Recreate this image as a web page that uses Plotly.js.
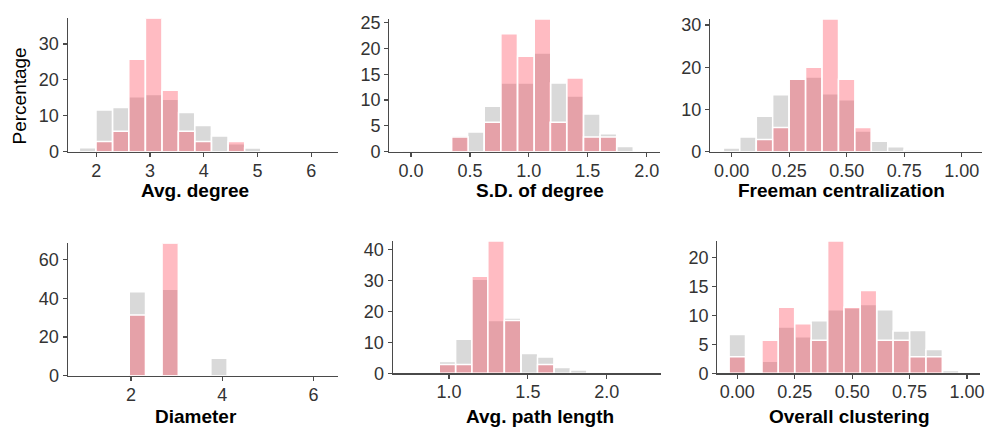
<!DOCTYPE html>
<html>
<head>
<meta charset="utf-8">
<script src="https://cdn.plot.ly/plotly-3.0.1.min.js"></script>
<style>html,body{margin:0;padding:0;background:#fff;}#chart{width:987px;height:429px;}</style>
</head>
<body>
<div id="chart"></div>
<script>
// ---- Data ----
// Panel 1: Avg. degree
const avgDegreeBins = [1.84, 2.15, 2.46, 2.76, 3.07, 3.38, 3.68, 3.99, 4.30, 4.61, 4.91];
const avgDegreeGray = [1.1, 11.6, 12.3, 15.3, 15.9, 14.6, 10.9, 7.3, 4.4, 2.2, 1.0];
const avgDegreePink = [0, 2.86, 5.71, 25.71, 37.14, 17.14, 5.71, 2.86, 0, 2.86, 0];
const avgDegreeWidth = 0.307;

// Panel 2: S.D. of degree
const sdDegreeBins = [0.0, 0.415, 0.551, 0.692, 0.833, 0.975, 1.116, 1.251, 1.393, 1.534, 1.675, 1.816];
const sdDegreeGray = [0.3, 3.1, 3.8, 8.8, 13.3, 13.3, 19.1, 13.3, 10.8, 7.3, 3.5, 1.0];
const sdDegreePink = [0, 2.86, 0, 5.71, 22.86, 18.5, 25.71, 5.71, 14.29, 2.86, 2.86, 0];
const sdDegreeWidth = 0.1405;

// Panel 3: Freeman centralization
const freemanBins = [0.0, 0.071, 0.143, 0.214, 0.286, 0.357, 0.429, 0.5, 0.571, 0.643, 0.714, 0.786];
const freemanGray = [0.9, 3.5, 8.4, 13.5, 17.3, 17.7, 13.7, 12.3, 4.9, 2.5, 1.2, 0.4];
const freemanPink = [0, 0, 2.86, 5.71, 17.14, 20.0, 31.43, 17.14, 5.71, 0, 0, 0];
const freemanWidth = 0.0714;

// Panel 4: Diameter
const diameterBins = [2.14, 2.86, 3.93];
const diameterGray = [43.5, 44.8, 9.0];
const diameterPink = [31.43, 68.57, 0];
const diameterWidth = 0.357;

// Panel 5: Avg. path length
const pathBins = [0.99, 1.094, 1.197, 1.298, 1.403, 1.51, 1.613, 1.718, 1.822, 1.928];
const pathGray = [3.8, 11.0, 30.5, 17.1, 17.9, 6.4, 5.3, 1.9, 1.1, 0.3];
const pathPink = [2.86, 2.86, 31.43, 42.86, 17.14, 0, 2.86, 0, 0, 0];
const pathWidth = 0.104;

// Panel 6: Overall clustering
const clusterBins = [0.0, 0.143, 0.214, 0.286, 0.357, 0.429, 0.5, 0.571, 0.643, 0.714, 0.786, 0.857, 0.929];
const clusterGray = [6.7, 2.1, 8.0, 6.3, 9.1, 11.0, 11.3, 11.9, 11.0, 7.3, 7.4, 4.1, 0.5];
const clusterPink = [2.86, 5.71, 11.43, 8.57, 5.71, 22.86, 11.43, 14.29, 5.71, 5.71, 2.86, 2.86, 0];
const clusterWidth = 0.0714;

const axisTitles = ["Avg. degree", "S.D. of degree", "Freeman centralization", "Diameter", "Avg. path length", "Overall clustering"];
const yTitle = "Percentage";

// ---- Layout geometry (pixels) ----
const W = 987, H = 429;
const panels = [
  {bins: avgDegreeBins, gray: avgDegreeGray, pink: avgDegreePink, w: avgDegreeWidth,
   px: [67.7, 338], py: [18.3, 151.7], xr: [1.47, 6.50], xt: [2,3,4,5,6], xfmt: "d", ydt: 10, title: [194.5, 190.5]},
  {bins: sdDegreeBins, gray: sdDegreeGray, pink: sdDegreePink, w: sdDegreeWidth,
   px: [389.3, 660], py: [19, 151.7], xr: [-0.184, 2.113], xt: [0,0.5,1,1.5,2], xfmt: ".1f", ydt: 5, title: [540, 190.5]},
  {bins: freemanBins, gray: freemanGray, pink: freemanPink, w: freemanWidth,
   px: [710, 981.7], py: [19, 151.7], xr: [-0.094, 1.087], xt: [0,0.25,0.5,0.75,1], xfmt: ".2f", ydt: 10, title: [841.7, 190.5]},
  {bins: diameterBins, gray: diameterGray, pink: diameterPink, w: diameterWidth,
   px: [67.7, 338], py: [243.3, 375.7], xr: [0.612, 6.54], xt: [2,4,6], xfmt: "d", ydt: 20, title: [195.8, 416.5]},
  {bins: pathBins, gray: pathGray, pink: pathPink, w: pathWidth,
   px: [392.7, 661], py: [241, 373.3], xr: [0.643, 2.344], xt: [1,1.5,2], xfmt: ".1f", ydt: 10, title: [539.7, 416.5]},
  {bins: clusterBins, gray: clusterGray, pink: clusterPink, w: clusterWidth,
   px: [717.3, 980], py: [241, 373.3], xr: [-0.087, 1.0565], xt: [0,0.25,0.5,0.75,1], xfmt: ".2f", ydt: 5, title: [849.5, 416.5]}
];

const FONT = "Liberation Sans, Arial, Helvetica, sans-serif";
const AXC = "#4a4a4a";
const nz = a => a.map(v => v === 0 ? null : v);

const data = [];
const layout = {
  width: W, height: H,
  margin: {l: 0, r: 0, t: 0, b: 0},
  paper_bgcolor: "#ffffff", plot_bgcolor: "rgba(0,0,0,0)",
  barmode: "overlay", showlegend: false,
  font: {family: FONT, color: "#333333"},
  annotations: []
};

panels.forEach((p, i) => {
  const n = i + 1;
  const xa = "x" + (n === 1 ? "" : n), ya = "y" + (n === 1 ? "" : n);
  data.push({
    type: "bar", x: p.bins, y: nz(p.gray), width: p.w, xaxis: xa, yaxis: ya,
    marker: {color: "#d9d9d9", line: {color: "#ffffff", width: 1.5}}, hoverinfo: "skip"
  });
  data.push({
    type: "bar", x: p.bins, y: nz(p.pink), width: p.w, xaxis: xa, yaxis: ya,
    marker: {color: "rgba(255,45,65,0.32)", line: {color: "#ffffff", width: 1.5}}, hoverinfo: "skip"
  });
  const ymax = Math.max(...p.gray, ...p.pink);
  const yt = [];
  for (let v = 0; v <= ymax + 1e-9; v += p.ydt) yt.push(v);
  layout["xaxis" + (n === 1 ? "" : n)] = {
    domain: [p.px[0] / W, p.px[1] / W], anchor: ya, range: p.xr,
    tickmode: "array", tickvals: p.xt, ticktext: p.xt.map(v => p.xfmt === "d" ? String(v) : v.toFixed(p.xfmt === ".1f" ? 1 : 2)),
    showline: true, linecolor: AXC, linewidth: 1.2, ticks: "outside", ticklen: 4, tickcolor: AXC, tickwidth: 1.2,
    ticklabelstandoff: -2,
    showgrid: false, zeroline: false, tickfont: {size: 18, color: "#333333", family: FONT}, fixedrange: true
  };
  layout["yaxis" + (n === 1 ? "" : n)] = {
    domain: [1 - p.py[1] / H, 1 - p.py[0] / H], anchor: xa, range: [0, ymax],
    tickmode: "array", tickvals: yt, ticktext: yt.map(String),
    showline: true, linecolor: AXC, linewidth: 1.2, ticks: "outside", ticklen: 4, tickcolor: AXC, tickwidth: 1.2,
    showgrid: false, zeroline: false, tickfont: {size: 18, color: "#333333", family: FONT}, fixedrange: true
  };
  layout.annotations.push({
    text: "<b>" + axisTitles[i] + "</b>", xref: "paper", yref: "paper",
    x: p.title[0] / W, y: 1 - p.title[1] / H, xanchor: "center", yanchor: "middle",
    showarrow: false, font: {size: 19, color: "#000000", family: FONT}
  });
});

layout.annotations.push({
  text: yTitle, xref: "paper", yref: "paper", x: 19.5 / W, y: 1 - 96 / H,
  xanchor: "center", yanchor: "middle", textangle: -90, showarrow: false,
  font: {size: 19, color: "#000000", family: FONT}
});

Plotly.newPlot("chart", data, layout, {displayModeBar: false, staticPlot: true});
</script>
</body>
</html>
